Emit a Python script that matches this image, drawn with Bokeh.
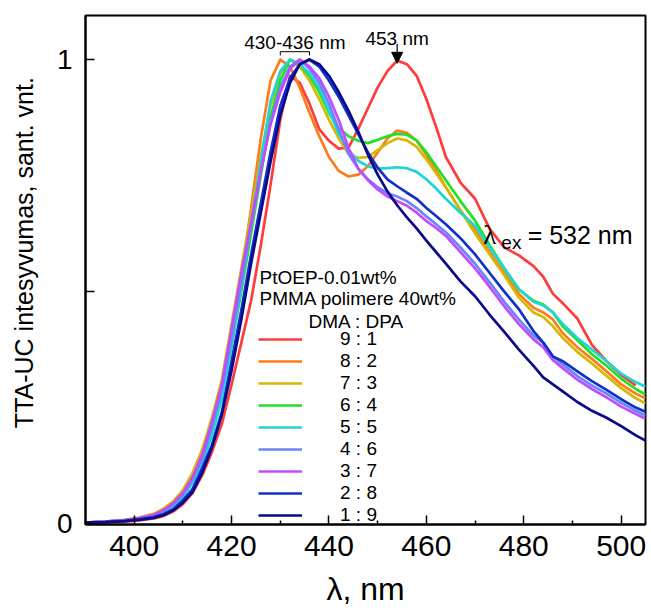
import numpy as np
from bokeh.plotting import figure
from bokeh.models import Range1d, FixedTicker, Legend, LegendItem, Label, Arrow, NormalHead
from bokeh.embed import file_html
from bokeh.resources import INLINE

FONT = "Liberation Sans"

# ---------------- data ----------------
wavelength = [390, 394, 398, 401, 404, 406, 408, 410, 412, 414,
              416, 418, 420, 422, 424, 426, 428, 430, 432, 434,
              436, 438, 440, 442, 444, 446, 448, 450, 452, 454,
              456, 458, 460, 462, 464, 467, 470, 473, 476, 479,
              482, 484, 486, 488, 491, 494, 497, 500, 503, 505]

ratio_labels = ["9 : 1", "8 : 2", "7 : 3", "6 : 4", "5 : 5", "4 : 6", "3 : 7", "2 : 8", "1 : 9"]
series_colors = ["#ff3b3b", "#ff7b1c", "#d4b900", "#22e022", "#1fd6d6",
                 "#6b84ff", "#c04cff", "#1030c8", "#0a0a8a"]

r_9_1 = [.001, .002, .004, .007, .011, .016, .026, .042, .066, .105,
         .155, .215, .30, .39, .48, .60, .73, .87, .965, .95,
         .905, .85, .825, .808, .81, .85, .895, .94, .975, .998,
         .99, .965, .915, .855, .79, .735, .70, .635, .595, .578,
         .555, .532, .495, .475, .442, .385, .35, .32, .298, float("nan")]
r_8_2 = [.002, .004, .007, .011, .018, .027, .042, .064, .098, .145,
         .205, .29, .40, .53, .68, .83, .955, 1.0, .985, .94,
         .885, .835, .79, .76, .748, .752, .77, .80, .83, .847,
         .842, .825, .795, .76, .725, .675, .632, .585, .54, .495,
         .465, .455, .44, .41, .38, .355, .328, .30, .28, .27]
r_7_3 = [.002, .004, .008, .013, .021, .032, .048, .072, .11, .16,
         .23, .31, .43, .55, .67, .79, .90, .97, 1.0, .985,
         .955, .915, .87, .83, .797, .788, .79, .805, .82, .83,
         .826, .812, .785, .755, .725, .675, .625, .58, .535, .487,
         .455, .445, .425, .40, .37, .345, .318, .292, .27, .259]
r_6_4 = [.002, .004, .007, .011, .017, .026, .04, .06, .09, .135,
         .195, .28, .385, .50, .625, .75, .875, .955, 1.0, .99,
         .965, .93, .885, .852, .835, .825, .82, .827, .835, .84,
         .838, .826, .80, .77, .74, .695, .653, .60, .55, .505,
         .48, .472, .455, .425, .395, .365, .34, .312, .29, .278]
r_5_5 = [.002, .004, .007, .011, .017, .025, .038, .058, .088, .13,
         .19, .27, .385, .51, .645, .78, .91, .975, 1.0, .99,
         .97, .94, .89, .84, .805, .782, .77, .765, .766, .768,
         .766, .758, .742, .722, .70, .67, .642, .595, .55, .505,
         .478, .47, .455, .43, .40, .375, .35, .323, .305, .295]
r_4_6 = [.002, .004, .007, .011, .018, .027, .041, .062, .095, .14,
         .21, .29, .40, .52, .64, .76, .865, .94, .985, 1.0,
         .98, .95, .905, .85, .797, .765, .742, .725, .712, .705,
         .695, .68, .662, .645, .628, .595, .56, .52, .478, .44,
         .405, .39, .36, .343, .318, .298, .28, .26, .243, .233]
r_3_7 = [.002, .004, .007, .012, .019, .029, .044, .066, .10, .15,
         .22, .30, .42, .54, .65, .76, .86, .93, .98, 1.0,
         .985, .96, .92, .87, .81, .765, .74, .72, .705, .695,
         .685, .67, .652, .637, .62, .585, .55, .51, .468, .43,
         .397, .38, .352, .335, .31, .29, .272, .252, .236, .226]
r_2_8 = [.002, .003, .006, .009, .014, .02, .031, .05, .075, .12,
         .17, .24, .35, .46, .58, .69, .80, .90, .96, .99,
         1.0, .985, .955, .92, .88, .84, .80, .767, .742, .727,
         .713, .70, .68, .663, .645, .615, .58, .54, .50, .462,
         .415, .39, .36, .35, .328, .307, .288, .268, .25, .241]
r_1_9 = [.002, .003, .005, .008, .012, .018, .028, .045, .068, .11,
         .165, .235, .33, .44, .56, .67, .78, .88, .95, .99,
         1.0, .99, .965, .93, .89, .845, .795, .752, .716, .686,
         .66, .636, .61, .585, .56, .522, .49, .45, .413, .375,
         .34, .315, .30, .285, .262, .243, .228, .21, .19, .179]

series = [r_9_1, r_8_2, r_7_3, r_6_4, r_5_5, r_4_6, r_3_7, r_2_8, r_1_9]

x_ticks = [400, 420, 440, 460, 480, 500]
x_minor = [410, 430, 450, 470, 490]
y_ticks = [0, 0.5, 1]

# ---------------- figure ----------------
p = figure(width=651, height=613, output_backend="svg", toolbar_location=None,
           x_range=Range1d(390, 505), y_range=Range1d(-0.002, 1.095),
           min_border_left=85, min_border_right=6, min_border_top=15, min_border_bottom=89)
p.background_fill_color = "white"
p.border_fill_color = "white"
p.xgrid.visible = False
p.ygrid.visible = False
p.outline_line_color = "black"
p.outline_line_width = 2
p.outline_line_alpha = 1

renderers = []
for vals, col in zip(series, series_colors):
    r = p.line(wavelength, vals, line_color=col, line_width=2.7, line_join="round")
    renderers.append(r)

# axes
xa = p.xaxis[0]
xa.ticker = FixedTicker(ticks=x_ticks, minor_ticks=x_minor)
xa.axis_line_width = 2
xa.major_tick_in = 9
xa.major_tick_out = 0
xa.minor_tick_in = 4
xa.minor_tick_out = 0
xa.major_tick_line_width = 1.5
xa.minor_tick_line_width = 1.5
xa.major_label_text_font = FONT
xa.major_label_text_font_size = "30px"
xa.major_label_text_color = "black"
xa.major_label_standoff = 11
xa.axis_label = "λ, nm"
xa.axis_label_text_font = FONT
xa.axis_label_text_font_size = "32px"
xa.axis_label_text_font_style = "normal"
xa.axis_label_text_color = "black"
xa.axis_label_standoff = 12

ya = p.yaxis[0]
ya.ticker = FixedTicker(ticks=y_ticks, minor_ticks=[])
ya.axis_line_width = 2
ya.major_tick_in = 9
ya.major_tick_out = 0
ya.minor_tick_in = 0
ya.minor_tick_out = 0
ya.major_tick_line_width = 1.5
ya.major_label_text_font = FONT
ya.major_label_text_font_size = "28px"
ya.major_label_text_color = "black"
ya.major_label_standoff = 13
ya.major_label_overrides = {0: "0", 0.5: "", 1: "1"}
ya.axis_label = "\u00a0" * 5 + "TTA-UC intesyvumas, sant. vnt."
ya.axis_label_text_font = FONT
ya.axis_label_text_font_size = "25px"
ya.axis_label_text_font_style = "normal"
ya.axis_label_text_color = "black"
ya.axis_label_standoff = 16

# legend block
items = [LegendItem(label=lab, renderers=[r]) for lab, r in zip(ratio_labels, renderers)]
legend = Legend(items=items, location=(173, -2), orientation="vertical",
                background_fill_alpha=0, border_line_alpha=0,
                padding=0, margin=0, spacing=0,
                glyph_width=44, glyph_height=22, label_height=22, label_standoff=38,
                label_text_font=FONT, label_text_font_size="19px", label_text_color="black")
p.add_layout(legend)

header_x = 390 + (259 - 85) / 4.87
p.add_layout(Label(x=header_x, y=0.530, text="PtOEP-0.01wt%", text_font=FONT,
                   text_font_size="19px", text_baseline="alphabetic", text_color="black"))
p.add_layout(Label(x=header_x, y=0.485, text="PMMA polimere 40wt%", text_font=FONT,
                   text_font_size="19px", text_baseline="alphabetic", text_color="black"))
p.add_layout(Label(x=390 + (308 - 85) / 4.87, y=0.435, text="DMA : DPA", text_font=FONT,
                   text_font_size="19px", text_baseline="alphabetic", text_color="black"))

# peak range bracket derived from data
wl = np.array(wavelength)
first_peaks = [wl[np.nanargmax(np.array(s)[wl < 445])] for s in series[1:]]
b0, b1 = min(first_peaks), max(first_peaks)
p.line([b0, b0, b1, b1], [1.009, 1.017, 1.017, 1.009], line_color="black", line_width=1)
p.add_layout(Label(x=(b0 + b1) / 2, y=1.036, text="430-436 nm", text_align="center",
                   text_baseline="alphabetic", text_font=FONT, text_font_size="19px",
                   text_color="black"))

# 453 nm arrow at red's second maximum
red = np.array(r_9_1)
mask = (wl > 445) & ~np.isnan(red)
pk_x = wl[mask][np.argmax(red[mask])]
pk_y = red[mask].max()
p.add_layout(Arrow(end=NormalHead(size=11, fill_color="black", line_color="black"),
                   x_start=pk_x, y_start=1.034, x_end=pk_x, y_end=pk_y - 0.006,
                   line_color="black", line_width=1.2))
p.add_layout(Label(x=pk_x, y=1.045, text="453 nm", text_align="center",
                   text_baseline="alphabetic", text_font=FONT, text_font_size="19px",
                   text_color="black"))

# excitation label
p.add_layout(Label(x=471.7, y=0.623, text="λ", text_baseline="alphabetic",
                   text_font="Liberation Serif", text_font_size="27px", text_color="black"))
p.add_layout(Label(x=475.4, y=0.606, text="ex", text_baseline="alphabetic",
                   text_font=FONT, text_font_size="19px", text_color="black"))
p.add_layout(Label(x=480.8, y=0.623, text="= 532 nm", text_baseline="alphabetic",
                   text_font=FONT, text_font_size="25px", text_color="black"))

open("out.html", "w").write(file_html(p, INLINE))
